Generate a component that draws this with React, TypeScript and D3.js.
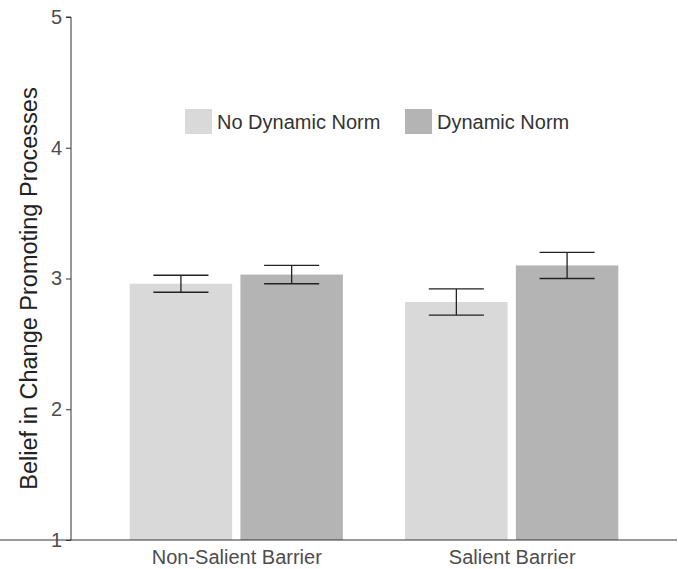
import { useRef, useEffect } from "react";
import * as d3 from "d3";

// data
const barriers = ["Non-Salient Barrier", "Salient Barrier"];
const normGroups = ["No Dynamic Norm", "Dynamic Norm"];
const noNormMeans = [2.96, 2.82];
const noNormSE = [0.065, 0.1];
const normMeans = [3.03, 3.1];
const normSE = [0.07, 0.1];
const yTicks = [1, 2, 3, 4, 5];

const fills = ["#d9d9d9", "#b4b4b4"];
const font = "'Liberation Sans', Arial, sans-serif";

export default function App() {
  const width = 678,
    height = 569,
    marginTop = 17,
    marginRight = 1,
    marginBottom = 29,
    marginLeft = 71;

  const gx = useRef<SVGGElement>(null),
    gy = useRef<SVGGElement>(null),
    barsRef = useRef<SVGGElement>(null);

  const rows = barriers.map((b, i) => ({
    barrier: b,
    values: [
      { group: normGroups[0], mean: noNormMeans[i], se: noNormSE[i] },
      { group: normGroups[1], mean: normMeans[i], se: normSE[i] },
    ],
  }));

  const y = d3
    .scaleLinear()
    .domain([1, 5])
    .range([height - marginBottom, marginTop]);

  // ggplot style discrete axis: 0.6 units of padding each side
  const x = d3
    .scalePoint()
    .domain(barriers)
    .range([marginLeft, width - marginRight])
    .padding(0.6);
  const step = x.step();
  const barW = step * 0.372;
  const gap = step * 0.03;
  const capW = step * 0.2;

  useEffect(() => {
    const g = d3.select(gy.current);
    g.selectAll("*").remove();
    g.call(d3.axisLeft(y).tickValues(yTicks).tickFormat(d3.format("d")).tickSize(5).tickPadding(4));
    g.select(".domain").attr("stroke", "#333").attr("d", `M-5,${y(5)}H0V${y(1)}`);
    g.selectAll(".tick line").attr("stroke", "#333");
    g.selectAll(".tick text")
      .attr("fill", "#4d4d4d")
      .attr("font-size", 20)
      .attr("font-family", font);
  }, []);

  useEffect(() => {
    const g = d3.select(gx.current);
    g.selectAll("*").remove();
    g.call(d3.axisBottom(x).tickSize(0).tickPadding(10));
    g.select(".domain").attr("stroke", "#333").attr("d", `M-5,0H${width - marginRight}`);
    g.selectAll(".tick text")
      .attr("fill", "#4d4d4d")
      .attr("font-size", 20)
      .attr("font-family", font);
  }, []);

  useEffect(() => {
    const layer = d3.select(barsRef.current);
    layer.selectAll("*").remove();
    const groups = layer
      .selectAll("g")
      .data(rows)
      .join("g")
      .attr("transform", (d) => `translate(${x(d.barrier)},0)`);

    const offset = (i: number) => (i === 0 ? -gap / 2 - barW : gap / 2);

    groups
      .selectAll("rect")
      .data((d) => d.values)
      .join("rect")
      .attr("x", (_, i) => offset(i))
      .attr("width", barW)
      .attr("y", (d) => y(d.mean))
      .attr("height", (d) => y(1) - y(d.mean))
      .attr("fill", (_, i) => fills[i]);

    const err = groups
      .selectAll("g.err")
      .data((d) => d.values)
      .join("g")
      .attr("class", "err")
      .attr("stroke", "#222")
      .attr("stroke-width", 1.3);
    err
      .append("line")
      .attr("x1", (_, i) => offset(i) + barW / 2)
      .attr("x2", (_, i) => offset(i) + barW / 2)
      .attr("y1", (d) => y(d.mean + d.se))
      .attr("y2", (d) => y(d.mean - d.se));
    err
      .append("line")
      .attr("x1", (_, i) => offset(i) + barW / 2 - capW / 2)
      .attr("x2", (_, i) => offset(i) + barW / 2 + capW / 2)
      .attr("y1", (d) => y(d.mean + d.se))
      .attr("y2", (d) => y(d.mean + d.se));
    err
      .append("line")
      .attr("x1", (_, i) => offset(i) + barW / 2 - capW / 2)
      .attr("x2", (_, i) => offset(i) + barW / 2 + capW / 2)
      .attr("y1", (d) => y(d.mean - d.se))
      .attr("y2", (d) => y(d.mean - d.se));
  });

  const legendX = [185, 405];

  return (
    <svg
      width={width}
      height={height}
      style={{ position: "absolute", left: 0, top: 0, background: "#fff" }}
      fontFamily={font}
    >
      <g ref={barsRef}></g>
      <g ref={gx} transform={`translate(0,${height - marginBottom})`}></g>
      <g ref={gy} transform={`translate(${marginLeft},0)`}></g>
      <text
        transform={`translate(37,${(y(1) + y(5)) / 2 + 10}) rotate(-90)`}
        textAnchor="middle"
        fontSize={23.5}
        fill="#222"
      >
        Belief in Change Promoting Processes
      </text>
      {normGroups.map((g, i) => (
        <g key={g} transform={`translate(${legendX[i]},109)`}>
          <rect width={27} height={25} fill={fills[i]}></rect>
          <text x={32} y={20} fontSize={20} fill="#333">
            {g}
          </text>
        </g>
      ))}
    </svg>
  );
}
